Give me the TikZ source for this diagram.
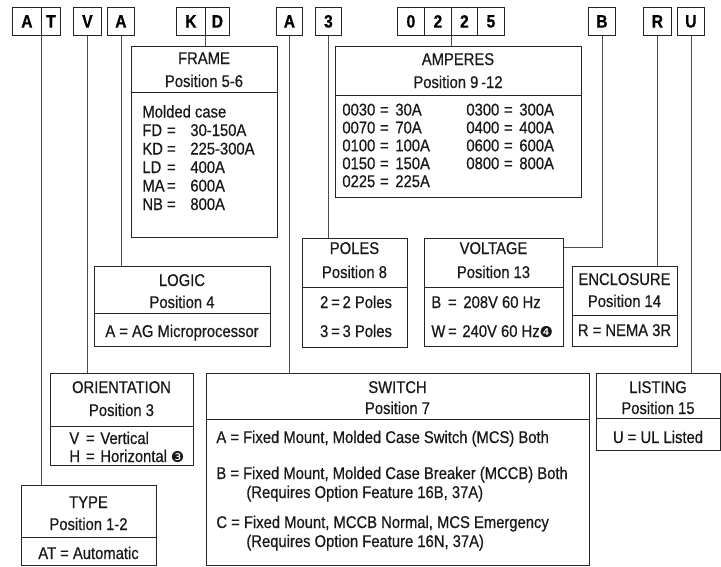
\documentclass[tikz,border=0pt]{standalone}
\usepackage{fontspec}
\setmainfont[FakeStretch=0.87,FakeBold=0.6]{Liberation Sans}
\newfontfamily\dingfont{DejaVu Sans}
\newcommand\dingC[1]{{\dingfont\fontsize{15}{12}\selectfont #1}}
\begin{document}
\begin{tikzpicture}[x=1pt,y=-1pt,
  line width=0.8pt,
  box/.style={draw=black!85, inner sep=0pt, anchor=north west},
  letter/.style={draw=black!85, inner sep=0pt, minimum height=28pt, anchor=north west,
    font=\fontsize{18}{18}\selectfont\bfseries, text=black},
  txt/.style={inner sep=0pt, anchor=base, text=black!90, font=\fontsize{17}{18}\selectfont},
  txtl/.style={txt, anchor=base west},
  conn/.style={draw=black!70, line width=0.8pt},
  divider/.style={draw=black!85, line width=0.8pt}]
\useasboundingbox (0,0) rectangle (721,566);

% ---- code letters ----
\node[letter, minimum width=29pt] (a1) at (12,7) {A};
\node[letter, minimum width=19pt] (t1) at (41,7) {T};
\node[letter, minimum width=28pt] (v1) at (73,7) {V};
\node[letter, minimum width=27pt] (a4) at (107,7) {A};
\node[letter, minimum width=29pt] (k1) at (176,7) {K};
\node[letter, minimum width=24pt] (d1) at (205,7) {D};
\node[letter, minimum width=26pt] (a7) at (276,7) {A};
\node[letter, minimum width=26pt] (p8) at (315,7) {3};
\node[letter, minimum width=27pt] (n9) at (397,7) {0};
\node[letter, minimum width=27pt] (n10) at (424,7) {2};
\node[letter, minimum width=26pt] (n11) at (451,7) {2};
\node[letter, minimum width=27pt] (n12) at (477,7) {5};
\node[letter, minimum width=27pt] (b13) at (588,7) {B};
\node[letter, minimum width=28pt] (r14) at (643,7) {R};
\node[letter, minimum width=27pt] (u15) at (677,7) {U};

% ---- boxes ----
\node[box, minimum width=146pt, minimum height=191pt] (frame) at (131,46) {};
\node[box, minimum width=246pt, minimum height=151pt] (amp) at (335,46) {};
\node[box, minimum width=176pt, minimum height=80pt] (logic) at (94,266) {};
\node[box, minimum width=105pt, minimum height=109pt] (poles) at (302,238) {};
\node[box, minimum width=139pt, minimum height=108pt] (volt) at (424,238) {};
\node[box, minimum width=105pt, minimum height=80pt] (encl) at (572,266) {};
\node[box, minimum width=143pt, minimum height=92pt] (orient) at (50,373) {};
\node[box, minimum width=383pt, minimum height=192pt] (switch) at (206,373) {};
\node[box, minimum width=124pt, minimum height=77pt] (listing) at (596,373) {};
\node[box, minimum width=135pt, minimum height=80pt] (type) at (21,485) {};

% ---- dividers ----
\draw[divider] (frame.west |- 0,92) -- (frame.east |- 0,92);
\draw[divider] (amp.west |- 0,95) -- (amp.east |- 0,95);
\draw[divider] (logic.west |- 0,313) -- (logic.east |- 0,313);
\draw[divider] (poles.west |- 0,287) -- (poles.east |- 0,287);
\draw[divider] (volt.west |- 0,287) -- (volt.east |- 0,287);
\draw[divider] (encl.west |- 0,315) -- (encl.east |- 0,315);
\draw[divider] (orient.west |- 0,426) -- (orient.east |- 0,426);
\draw[divider] (switch.west |- 0,419) -- (switch.east |- 0,419);
\draw[divider] (listing.west |- 0,418) -- (listing.east |- 0,418);
\draw[divider] (type.west |- 0,537) -- (type.east |- 0,537);

% ---- connectors ----
\draw[conn] (a1.south east) -- (a1.south east |- type.north);
\draw[conn] (v1.south) -- (v1.south |- orient.north);
\draw[conn] (a4.south) -- (a4.south |- logic.north);
\draw[conn] (k1.south east) -- (k1.south east |- frame.north);
\draw[conn] (a7.south) -- (a7.south |- switch.north);
\draw[conn] (p8.south) -- (p8.south |- poles.north);
\draw[conn] (n10.south east) -- (n10.south east |- amp.north);
\draw[conn] (b13.south) |- ([yshift=-9pt]volt.north east);
\draw[conn] (r14.south) -- (r14.south |- encl.north);
\draw[conn] (u15.south) -- (u15.south |- listing.north);

% ---- FRAME ----
\node[txt] (frt) at (204,64) {FRAME};
\node[txt] (frp) at (204,87) {Position 5-6};
\node[txtl] (fr0) at (142,117.5) {Molded case};
\node[txtl] (fr1) at (142,136) {\makebox[29pt][l]{FD}\makebox[0pt]{=}\hspace{19pt}30-150A};
\node[txtl] (fr2) at (142,154.5) {\makebox[29pt][l]{KD}\makebox[0pt]{=}\hspace{19pt}225-300A};
\node[txtl] (fr3) at (142,173) {\makebox[29pt][l]{LD}\makebox[0pt]{=}\hspace{19pt}400A};
\node[txtl] (fr4) at (142,191.5) {\makebox[29pt][l]{MA}\makebox[0pt]{=}\hspace{19pt}600A};
\node[txtl] (fr5) at (142,210) {\makebox[29pt][l]{NB}\makebox[0pt]{=}\hspace{19pt}800A};

% ---- AMPERES ----
\node[txt] (amt) at (458,65) {AMPERES};
\node[txt] (amp2) at (458,88) {Position 9\,-12};
\node[txtl] (am1) at (342,115.5) {\makebox[42pt][l]{0030}\makebox[0pt]{=}\hspace{11pt}30A};
\node[txtl] (am2) at (342,133.4) {\makebox[42pt][l]{0070}\makebox[0pt]{=}\hspace{11pt}70A};
\node[txtl] (am3) at (342,151.3) {\makebox[42pt][l]{0100}\makebox[0pt]{=}\hspace{11pt}100A};
\node[txtl] (am4) at (342,169.2) {\makebox[42pt][l]{0150}\makebox[0pt]{=}\hspace{11pt}150A};
\node[txtl] (am5) at (342,187.1) {\makebox[42pt][l]{0225}\makebox[0pt]{=}\hspace{11pt}225A};
\node[txtl] (am6) at (466,115.5) {\makebox[42pt][l]{0300}\makebox[0pt]{=}\hspace{11pt}300A};
\node[txtl] (am7) at (466,133.4) {\makebox[42pt][l]{0400}\makebox[0pt]{=}\hspace{11pt}400A};
\node[txtl] (am8) at (466,151.3) {\makebox[42pt][l]{0600}\makebox[0pt]{=}\hspace{11pt}600A};
\node[txtl] (am9) at (466,169.2) {\makebox[42pt][l]{0800}\makebox[0pt]{=}\hspace{11pt}800A};

% ---- LOGIC ----
\node[txt] (lgt) at (182,286) {LOGIC};
\node[txt] (lgp) at (182,308) {Position 4};
\node[txt] (lg1) at (182,337) {A = AG Microprocessor};

% ---- POLES ----
\node[txt] (plt) at (354.5,254) {POLES};
\node[txt] (plp) at (354.5,278) {Position 8};
\node[txt] (pl1) at (356,308) {2\,=\,2 Poles};
\node[txt] (pl2) at (356,337) {3\,=\,3 Poles};

% ---- VOLTAGE ----
\node[txt] (vlt) at (493.5,254) {VOLTAGE};
\node[txt] (vlp) at (493.5,278) {Position 13};
\node[txtl] (vl1) at (431,308) {\makebox[21pt][l]{B}\makebox[0pt]{=}\hspace{11pt}208V 60 Hz};
\node[txtl] (vl2) at (431,337) {\makebox[21pt][l]{W}\makebox[0pt]{=}\hspace{10pt}240V 60 Hz\dingC{❹}};

% ---- ENCLOSURE ----
\node[txt] (ent) at (624.5,285) {ENCLOSURE};
\node[txt] (enp) at (624.5,307) {Position 14};
\node[txt] (en1) at (624.5,336) {R = NEMA 3R};

% ---- ORIENTATION ----
\node[txt] (ort) at (121.5,393) {ORIENTATION};
\node[txt] (orp) at (121.5,416) {Position 3};
\node[txtl] (or1) at (69,444) {\makebox[21pt][l]{V}\makebox[0pt]{=}\hspace{10pt}Vertical};
\node[txtl] (or2) at (69,462) {\makebox[21pt][l]{H}\makebox[0pt]{=}\hspace{10pt}Horizontal\hspace{4pt}\dingC{❸}};

% ---- SWITCH ----
\node[txt] (swt) at (397.5,393) {SWITCH};
\node[txt] (swp) at (397.5,414) {Position 7};
\node[txtl] (sw1) at (216,443) {A = Fixed Mount, Molded Case Switch (MCS) Both};
\node[txtl] (sw2) at (216,479) {B = Fixed Mount, Molded Case Breaker (MCCB) Both};
\node[txtl] (sw3) at (246,498) {(Requires Option Feature 16B, 37A)};
\node[txtl] (sw4) at (216,528) {C = Fixed Mount, MCCB Normal, MCS Emergency};
\node[txtl] (sw5) at (246,547) {(Requires Option Feature 16N, 37A)};

% ---- LISTING ----
\node[txt] (lst) at (658,393) {LISTING};
\node[txt] (lsp) at (658,414) {Position 15};
\node[txt] (ls1) at (658,443) {U = UL Listed};

% ---- TYPE ----
\node[txt] (tyt) at (88.5,508) {TYPE};
\node[txt] (typ) at (88.5,530) {Position 1-2};
\node[txt] (ty1) at (88.5,559) {AT = Automatic};
\end{tikzpicture}
\end{document}
